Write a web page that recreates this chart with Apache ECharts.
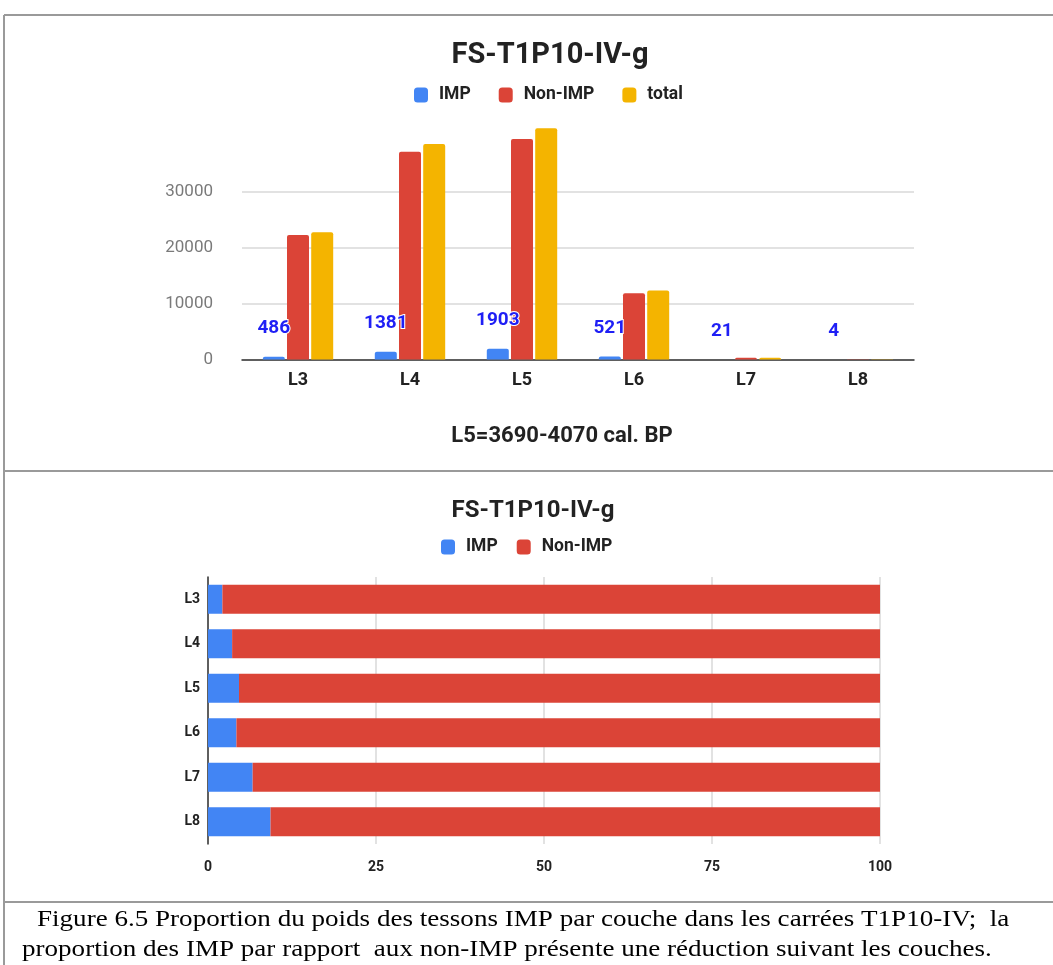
<!DOCTYPE html>
<html>
<head>
<meta charset="utf-8">
<script src="https://cdn.jsdelivr.net/npm/echarts@6/dist/echarts.min.js"></script>
<style>
html,body{margin:0;padding:0;background:#fff;}
#c{width:1053px;height:965px;}
</style>
</head>
<body>
<div id="c"></div>
<script>
// ---- data ----
const categories = ['L3', 'L4', 'L5', 'L6', 'L7', 'L8'];
const impValues = [486, 1381, 1903, 521, 21, 4];
const nonImpValues = [22200, 37070, 39340, 11800, 295, 39];
const totalValues = [22686, 38451, 41243, 12321, 316, 43];
const yTicks = [0, 10000, 20000, 30000];
const xPctTicks = [0, 25, 50, 75, 100];
const chartTitle = 'FS-T1P10-IV-g';
const subTitle = 'L5=3690-4070 cal. BP';
const captionLine1 = 'Figure 6.5 Proportion du poids des tessons IMP par couche dans les carrées T1P10-IV;  la';
const captionLine2 = 'proportion des IMP par rapport  aux non-IMP présente une réduction suivant les couches.';

// shares for the 100% stacked chart, derived from the values above
const impPct = impValues.map((v, i) => v / (v + nonImpValues[i]) * 100);
const nonImpPct = nonImpValues.map((v, i) => v / (impValues[i] + v) * 100);

const C_IMP = '#4285F4', C_NON = '#DB4437', C_TOT = '#F4B400';
const F = 'Roboto, "Liberation Sans", Arial, sans-serif';
const SERIF = '23px "Liberation Serif", "Times New Roman", serif';

const chart = echarts.init(document.getElementById('c'), null, {renderer: 'canvas'});
const gridColor = '#d9d9d9';
const borderColor = '#9a9a9a';
const legendText = {fontFamily: F, fontSize: 17.5, fontWeight: 'bold', color: '#222', padding: [0, 0, 0, 6]};

const option = {
  animation: false,
  textStyle: {fontFamily: F},
  title: [
    {text: chartTitle, left: 545, top: 36, textAlign: 'center',
     textStyle: {fontFamily: F, fontSize: 29, fontWeight: 'bold', color: '#222'}},
    {text: subTitle, left: 557, top: 420, textAlign: 'center',
     textStyle: {fontFamily: F, fontSize: 22, fontWeight: 'bold', color: '#222'}},
    {text: chartTitle, left: 528, top: 494, textAlign: 'center',
     textStyle: {fontFamily: F, fontSize: 24, fontWeight: 'bold', color: '#222'}}
  ],
  legend: [
    {data: ['IMP', 'Non-IMP', 'total'], top: 86, left: 414, padding: 0,
     itemWidth: 14, itemHeight: 15, itemGap: 28, icon: 'roundRect',
     textStyle: legendText},
    {data: ['IMP', 'Non-IMP'], top: 538, left: 441, padding: 0,
     itemWidth: 14, itemHeight: 15, itemGap: 19, icon: 'roundRect',
     textStyle: legendText}
  ],
  grid: [
    {left: 242, right: 139, top: 124, bottom: 605.5, containLabel: false},
    {left: 208, right: 173, top: 577, bottom: 121, containLabel: false}
  ],
  xAxis: [
    {type: 'category', gridIndex: 0, data: categories,
     axisLine: {show: true, lineStyle: {color: '#333', width: 1.5}},
     axisTick: {show: false},
     axisLabel: {margin: 12, fontFamily: F, fontSize: 18, fontWeight: 'bold', color: '#222'}},
    {type: 'value', gridIndex: 1, min: xPctTicks[0], max: xPctTicks[xPctTicks.length - 1], interval: 25,
     axisLine: {show: false}, axisTick: {show: false},
     splitLine: {show: true, lineStyle: {color: gridColor, width: 1.5}},
     axisLabel: {margin: 16, fontFamily: F, fontSize: 14, fontWeight: 'bold', color: '#222'}}
  ],
  yAxis: [
    {type: 'value', gridIndex: 0, min: 0, max: 42000, interval: 10000,
     axisLine: {show: false}, axisTick: {show: false},
     splitLine: {show: true, lineStyle: {width: 1.5,
       color: [gridColor, gridColor, gridColor, gridColor, 'rgba(0,0,0,0)', 'rgba(0,0,0,0)']}},
     axisLabel: {margin: 29, fontFamily: F, fontSize: 17, color: '#7a7a7a', showMaxLabel: false,
       formatter: v => (yTicks.indexOf(v) >= 0 ? String(v) : '')}},
    {type: 'category', gridIndex: 1, data: categories, inverse: true,
     axisLine: {show: true, lineStyle: {color: '#333', width: 1.5}},
     axisTick: {show: false},
     axisLabel: {margin: 8, fontFamily: F, fontSize: 14, fontWeight: 'bold', color: '#222'}}
  ],
  series: [
    {name: 'IMP', type: 'bar', xAxisIndex: 0, yAxisIndex: 0, data: impValues,
     barWidth: 22, barGap: '10%', itemStyle: {color: C_IMP, borderRadius: [2, 2, 0, 0]},
     label: {show: true, position: 'top', distance: 19, fontFamily: F, fontSize: 19, fontWeight: 'bold',
       color: '#1f1ff5', textBorderColor: '#fff', textBorderWidth: 2}},
    {name: 'Non-IMP', type: 'bar', xAxisIndex: 0, yAxisIndex: 0, data: nonImpValues,
     barWidth: 22, barGap: '10%', itemStyle: {color: C_NON, borderRadius: [2, 2, 0, 0]}},
    {name: 'total', type: 'bar', xAxisIndex: 0, yAxisIndex: 0, data: totalValues,
     barWidth: 22, barGap: '10%', itemStyle: {color: C_TOT, borderRadius: [2, 2, 0, 0]}},
    {name: 'IMP', type: 'bar', xAxisIndex: 1, yAxisIndex: 1, stack: 'pct', data: impPct,
     barWidth: 29, itemStyle: {color: C_IMP}},
    {name: 'Non-IMP', type: 'bar', xAxisIndex: 1, yAxisIndex: 1, stack: 'pct', data: nonImpPct,
     barWidth: 29, itemStyle: {color: C_NON}}
  ],
  graphic: [
    {type: 'line', shape: {x1: 4, y1: 15, x2: 1053, y2: 15}, style: {stroke: borderColor, lineWidth: 2}},
    {type: 'line', shape: {x1: 4, y1: 15, x2: 4, y2: 965}, style: {stroke: borderColor, lineWidth: 2}},
    {type: 'line', shape: {x1: 4, y1: 471, x2: 1053, y2: 471}, style: {stroke: borderColor, lineWidth: 2}},
    {type: 'line', shape: {x1: 4, y1: 902, x2: 1053, y2: 902}, style: {stroke: borderColor, lineWidth: 2}},
    {type: 'text', x: 37, y: 908, scaleX: 1.177,
     style: {text: captionLine1, font: SERIF, fill: '#000'}},
    {type: 'text', x: 22, y: 938, scaleX: 1.177,
     style: {text: captionLine2, font: SERIF, fill: '#000'}}
  ]
};
chart.setOption(option);
</script>
</body>
</html>
